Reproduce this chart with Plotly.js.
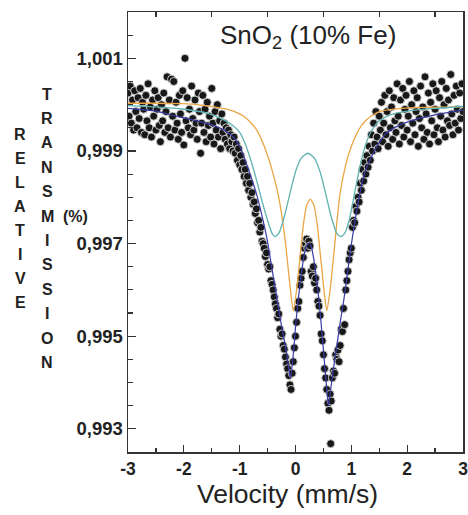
<!DOCTYPE html>
<html>
<head>
<meta charset="utf-8">
<script src="https://cdn.plot.ly/plotly-3.0.1.min.js"></script>
<style>html,body{margin:0;padding:0;background:#fff;}#chart{width:468px;height:515px;}</style>
</head>
<body>
<div id="chart"></div>
<script>
// ---- measured spectrum (velocity in mm/s, relative transmission) ----
const velocity = [
-3.00,-2.98,-2.96,-2.94,-2.92,-2.90,-2.88,-2.86,-2.84,-2.82,-2.80,-2.78,-2.76,-2.74,-2.72,-2.70,-2.68,-2.66,-2.64,-2.62,
-2.60,-2.58,-2.56,-2.54,-2.52,-2.50,-2.48,-2.46,-2.44,-2.42,-2.40,-2.38,-2.36,-2.34,-2.32,-2.30,-2.28,-2.26,-2.24,-2.22,
-2.20,-2.18,-2.16,-2.14,-2.12,-2.10,-2.08,-2.06,-2.04,-2.02,-2.00,-1.98,-1.96,-1.94,-1.92,-1.90,-1.88,-1.86,-1.84,-1.82,
-1.80,-1.78,-1.76,-1.74,-1.72,-1.70,-1.68,-1.66,-1.64,-1.62,-1.60,-1.58,-1.56,-1.54,-1.52,-1.50,-1.48,-1.46,-1.44,-1.42,
-1.40,-1.38,-1.36,-1.34,-1.32,-1.30,
-1.28,-1.26,-1.24,-1.22,-1.20,-1.18,-1.16,-1.14,-1.12,-1.10,-1.08,-1.06,-1.04,-1.02,-1.00,-0.98,-0.96,-0.94,-0.92,-0.90,
-0.88,-0.86,-0.84,-0.82,-0.80,-0.78,-0.76,-0.74,-0.72,-0.70,-0.68,-0.66,-0.64,-0.62,-0.60,
-0.58,-0.56,-0.54,-0.52,-0.50,-0.48,-0.46,-0.44,-0.42,-0.40,-0.38,-0.36,-0.34,-0.32,-0.30,-0.28,-0.26,-0.24,-0.22,-0.20,
-0.18,-0.16,-0.14,-0.12,-0.10,
-0.08,-0.06,-0.04,-0.02,0.00,0.02,0.04,0.06,0.08,0.10,0.12,0.14,0.16,0.18,0.20,0.22,0.24,0.26,0.28,0.30,
0.32,0.34,0.36,0.38,0.40,0.42,0.44,0.46,0.48,0.50,0.52,0.54,0.56,
0.58,0.60,0.62,0.64,0.66,0.68,0.70,0.72,0.74,0.76,0.78,0.80,0.82,0.84,0.86,0.88,0.90,0.92,0.94,0.96,
0.98,1.00,1.02,1.04,1.06,1.08,1.10,1.12,1.14,1.16,1.18,1.20,
1.22,1.24,1.26,1.28,1.30,1.32,1.34,1.36,1.38,1.40,1.42,1.44,1.46,1.48,1.50,1.52,1.54,1.56,1.58,1.60,
1.62,1.64,1.66,1.68,1.70,1.72,1.74,1.76,1.78,1.80,1.82,1.84,1.86,1.88,1.90,1.92,1.94,1.96,1.98,2.00,
2.02,2.04,2.06,2.08,2.10,2.12,2.14,2.16,2.18,2.20,2.22,2.24,2.26,2.28,2.30,2.32,2.34,2.36,2.38,2.40,
2.42,2.44,2.46,2.48,2.50,2.52,2.54,2.56,2.58,2.60,2.62,2.64,2.66,2.68,2.70,2.72,2.74,2.76,2.78,2.80,
2.82,2.84,2.86,2.88,2.90,2.92,2.94,2.96,2.98,3.00,
0.63
];
const transmission = [
1.00025,0.99975,1.00040,0.99960,1.00010,0.99945,1.00030,0.99985,0.99950,1.00015,0.99970,1.00035,0.99940,1.00005,0.99990,0.99935,1.00020,0.99965,1.00045,0.99950,
0.99995,0.99930,1.00010,0.99975,1.00030,0.99945,0.99990,1.00015,0.99955,0.99920,1.00000,0.99965,1.00025,0.99940,0.99985,1.00060,0.99950,1.00010,0.99930,1.00055,
0.99975,1.00050,0.99945,1.00005,0.99960,0.99925,1.00020,0.99980,0.99940,1.00030,0.99913,1.00100,0.99965,1.00015,0.99950,0.99990,0.99935,1.00040,0.99970,0.99945,
1.00010,0.99960,0.99925,1.00025,0.99985,0.99895,0.99960,1.00020,0.99940,0.99990,0.99920,1.00005,0.99955,0.99975,0.99930,1.00035,0.99960,0.99915,0.99985,0.99945,
1.00000,0.99930,0.99965,0.99905,0.99980,0.99940,
0.99960,0.99925,0.99950,0.99915,0.99945,0.99905,0.99935,0.99920,0.99900,0.99930,0.99895,0.99915,0.99880,0.99905,0.99870,0.99890,0.99860,0.99875,0.99845,0.99860,
0.99830,0.99845,0.99815,0.99830,0.99800,0.99810,0.99785,0.99790,0.99765,0.99775,0.99745,0.99750,0.99725,0.99735,0.99705,
0.99700,0.99690,0.99672,0.99680,0.99655,0.99645,0.99650,0.99620,0.99612,0.99600,0.99585,0.99570,0.99560,0.99540,0.99548,0.99515,0.99500,0.99505,0.99480,0.99472,
0.99455,0.99440,0.99430,0.99415,0.99395,
0.99385,0.99420,0.99445,0.99475,0.99500,0.99530,0.99560,0.99575,0.99610,0.99625,0.99640,0.99670,0.99690,0.99700,0.99710,0.99690,0.99705,0.99695,0.99640,0.99630,
0.99650,0.99615,0.99625,0.99600,0.99575,0.99565,0.99545,0.99505,0.99490,0.99460,0.99430,0.99410,0.99385,
0.99355,0.99340,0.99375,0.99360,0.99410,0.99425,0.99420,0.99460,0.99450,0.99470,0.99445,0.99480,0.99515,0.99510,0.99560,0.99525,0.99600,0.99620,0.99640,0.99665,
0.99680,0.99690,0.99735,0.99750,0.99745,0.99780,0.99770,0.99800,0.99790,0.99830,0.99815,0.99860,
0.99835,0.99875,0.99850,0.99890,0.99865,0.99910,0.99880,0.99935,0.99900,0.99960,0.99915,0.99985,0.99930,0.99905,0.99975,0.99945,1.00005,0.99920,0.99960,1.00020,
0.99935,0.99985,0.99910,1.00030,0.99950,0.99995,0.99925,1.00015,0.99965,0.99940,1.00045,0.99975,0.99915,1.00010,0.99955,1.00035,0.99930,0.99990,1.00020,0.99945,
0.99975,1.00050,0.99920,1.00000,0.99960,1.00030,0.99935,0.99985,1.00015,0.99910,0.99970,1.00040,0.99950,0.99995,0.99925,1.00060,0.99980,0.99940,1.00025,0.99915,
1.00005,0.99965,1.00045,0.99935,0.99990,1.00030,0.99950,0.99920,1.00015,0.99975,1.00050,0.99945,1.00000,0.99930,1.00035,0.99965,1.00010,0.99955,1.00065,0.99980,
0.99935,1.00020,0.99960,1.00040,0.99990,0.99945,1.00025,0.99970,1.00045,0.99985,
0.99268
];

// ---- fitted sub-spectra and total fit ----
const orangeV = [-3.0,-2.5,-2.0,-1.7,-1.4,-1.2,-1.0,-0.9,-0.8,-0.7,-0.6,-0.5,-0.4,-0.3,-0.22,-0.16,-0.1,-0.04,0.02,0.08,0.14,0.2,0.265,0.33,0.39,0.45,0.51,0.56,0.62,0.68,0.74,0.8,0.9,1.0,1.1,1.2,1.35,1.5,1.8,2.3,3.0];
const orangeT = [1.00003,1.00003,1.00002,0.99999,0.99994,0.99989,0.99980,0.99972,0.99961,0.99946,0.99922,0.99890,0.99850,0.99800,0.99740,0.99680,0.99610,0.99555,0.99600,0.99670,0.99740,0.99783,0.99796,0.99783,0.99740,0.99670,0.99600,0.99555,0.99600,0.99670,0.99745,0.99810,0.99870,0.99910,0.99938,0.99958,0.99975,0.99985,0.99991,0.99994,0.99995];

const tealV = [-3.0,-2.5,-2.0,-1.6,-1.3,-1.1,-1.0,-0.9,-0.8,-0.7,-0.6,-0.5,-0.42,-0.37,-0.3,-0.2,-0.1,0.0,0.1,0.22,0.34,0.44,0.54,0.64,0.74,0.81,0.88,0.96,1.06,1.16,1.26,1.36,1.5,1.7,2.0,2.5,3.0];
const tealT = [0.99998,0.99995,0.99990,0.99982,0.99968,0.99953,0.99940,0.99915,0.99880,0.99838,0.99792,0.99750,0.99722,0.99715,0.99722,0.99758,0.99808,0.99855,0.99884,0.99895,0.99884,0.99855,0.99808,0.99758,0.99722,0.99715,0.99722,0.99750,0.99810,0.99870,0.99915,0.99943,0.99965,0.99978,0.99986,0.99992,0.99996];

const totalV = [-3,-2.5,-2.2,-1.8,-1.6,-1.4,-1.28,-1.1,-1.0,-0.9,-0.8,-0.7,-0.6,-0.51,-0.42,-0.33,-0.25,-0.17,-0.12,-0.09,-0.04,0.0,0.05,0.1,0.15,0.2,0.24,0.28,0.32,0.36,0.4,0.45,0.5,0.55,0.59,0.63,0.68,0.73,0.8,0.866,0.93,0.985,1.06,1.13,1.22,1.37,1.5,1.62,1.8,2.06,2.5,3.0];
const totalT = [0.99992,0.99986,0.99977,0.99966,0.99960,0.99952,0.99945,0.99928,0.99910,0.99880,0.99845,0.99808,0.99760,0.99710,0.99645,0.99579,0.99522,0.99471,0.99430,0.99410,0.99460,0.99520,0.99580,0.99630,0.99672,0.99696,0.99701,0.99694,0.99672,0.99640,0.99600,0.99540,0.99470,0.99400,0.99350,0.99385,0.99430,0.99471,0.99530,0.99579,0.99635,0.99686,0.99745,0.99794,0.99845,0.99890,0.99918,0.99938,0.99952,0.99965,0.99978,0.99988];

// ---- tick labels ----
const xTickVals = [-3,-2,-1,0,1,2,3];
const xTickText = ['-3','-2','-1','0','1','2','3'];
const yTickVals = [0.993,0.995,0.997,0.999,1.001];
const yTickText = ['0,993','0,995','0,997','0,999','1,001'];
const topTickVals = [-2.5,-1.5,-0.5,0.5,1.5,2.5];

const titleText = 'SnO<sub>2</sub> (10% Fe)';
const xTitleText = 'Velocity (mm/s)';
const yWord1 = ['R','E','L','A','T','I','V','E'];
const yWord2 = ['T','R','A','N','S','M','I','S','S','I','O','N'];
const yUnit = '(%)';

// ---- layout geometry ----
const W = 468, H = 515, ML = 128, MR = 5, MT = 12, MB = 63;
const PW = W - ML - MR, PH = H - MT - MB;
const pxX = px => (px - ML) / PW;
const pxY = py => (H - MB - py) / PH;

const FONT = 'Liberation Sans, Arial, Helvetica, sans-serif';
const letterFont = {family:FONT, size:16, weight:'bold', color:'#222'};
const annotations = [];
yWord1.forEach((ch, i) => annotations.push({
  xref:'paper', yref:'paper', x:pxX(20), y:pxY(134 + i*24), text:ch, showarrow:false,
  xanchor:'center', yanchor:'middle', font:letterFont
}));
yWord2.forEach((ch, i) => annotations.push({
  xref:'paper', yref:'paper', x:pxX(47), y:pxY(94 + i*24.4), text:ch, showarrow:false,
  xanchor:'center', yanchor:'middle', font:letterFont
}));
annotations.push({
  xref:'paper', yref:'paper', x:pxX(75), y:pxY(216), text:yUnit, showarrow:false,
  xanchor:'center', yanchor:'middle', font:letterFont
});
annotations.push({
  xref:'paper', yref:'paper', x:pxX(308), y:pxY(37), text:titleText, showarrow:false,
  xanchor:'center', yanchor:'middle', font:{family:FONT, size:26, color:'#222'}
});
annotations.push({
  xref:'paper', yref:'paper', x:pxX(287), y:pxY(494), text:xTitleText, showarrow:false,
  xanchor:'center', yanchor:'middle', font:{family:FONT, size:26.5, color:'#222'}
});

const traces = [
  {x:velocity, y:transmission, type:'scatter', mode:'markers', hoverinfo:'skip',
   marker:{symbol:'circle', size:8, color:'#181818', line:{color:'rgba(215,215,215,0.9)', width:1}}},
  {x:orangeV, y:orangeT, type:'scatter', mode:'lines', hoverinfo:'skip',
   line:{color:'#eaa646', width:1.3, shape:'spline', smoothing:0.6}},
  {x:tealV, y:tealT, type:'scatter', mode:'lines', hoverinfo:'skip', xaxis:'x2',
   line:{color:'#5fb3b0', width:1.3, shape:'spline', smoothing:0.6}},
  {x:totalV, y:totalT, type:'scatter', mode:'lines', hoverinfo:'skip',
   line:{color:'#3b3ba6', width:1.2, shape:'spline', smoothing:0.6}}
];

const axisLine = {showline:true, linecolor:'#333', linewidth:1.5, showgrid:false, zeroline:false};

const layout = {
  width:W, height:H,
  margin:{l:ML, r:MR, t:MT, b:MB, pad:0},
  paper_bgcolor:'#fff', plot_bgcolor:'#fff',
  showlegend:false,
  xaxis:Object.assign({}, axisLine, {
    range:[-3,3], mirror:true, tickmode:'array', tickvals:xTickVals, ticktext:xTickText,
    ticks:'inside', ticklen:7, tickwidth:1.3, tickcolor:'#333', ticklabeloverflow:'allow',
    minor:{tickmode:'linear', tick0:-3, dtick:0.5, ticks:'inside', ticklen:4, tickwidth:1.2, tickcolor:'#333'},
    tickfont:{family:FONT, size:17.5, weight:'bold', color:'#222'}
  }),
  xaxis2:{overlaying:'x', side:'top', range:[-3,3], showline:false, showgrid:false, zeroline:false,
    tickmode:'array', tickvals:topTickVals, ticks:'inside', ticklen:5, tickwidth:1.2, tickcolor:'#333',
    showticklabels:false},
  yaxis:Object.assign({}, axisLine, {
    range:[0.9925,1.002], mirror:true, tickmode:'array', tickvals:yTickVals, ticktext:yTickText,
    ticks:'inside', ticklen:8, tickwidth:1.3, tickcolor:'#333', ticklabeloverflow:'allow',
    minor:{tickmode:'linear', tick0:0.993, dtick:0.0005, ticks:'inside', ticklen:5, tickwidth:1.2, tickcolor:'#333'},
    tickfont:{family:FONT, size:18.5, weight:'bold', color:'#222'}
  }),
  annotations:annotations
};

Plotly.newPlot('chart', traces, layout, {displayModeBar:false, staticPlot:true});
</script>
</body>
</html>
